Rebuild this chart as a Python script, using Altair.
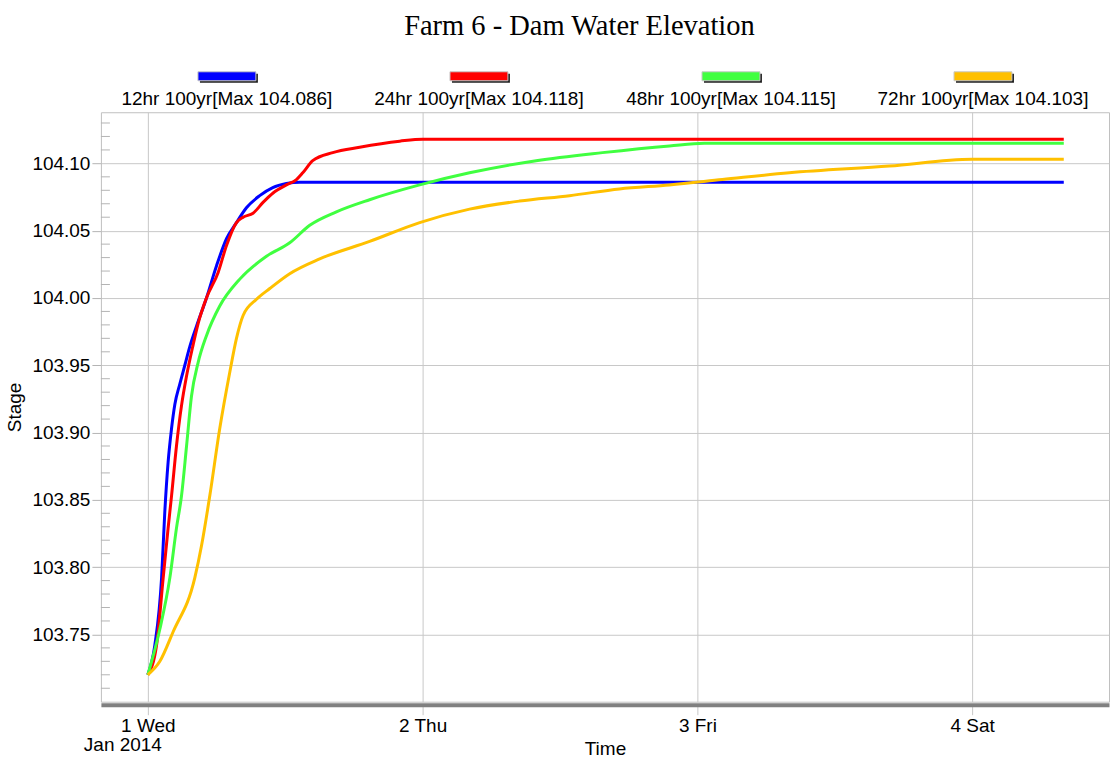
import altair as alt
import pandas as pd

# Series names and line colours
series_names = ["12hr 100yr", "24hr 100yr", "48hr 100yr", "72hr 100yr"]
series_colors = ["#0000ff", "#ff0000", "#40ff40", "#ffc000"]

# Stage readings: hours after 1 Jan 2014 00:00 and water elevation
hours_12 = [0, 0.61, 1.20, 1.48, 1.77, 2.07, 2.36, 2.79, 3.23, 3.67, 4.25, 5.12,
            6.00, 6.87, 7.74, 8.61, 9.77, 10.91, 12.10, 13.27, 80]
stage_12 = [103.720, 103.742, 103.792, 103.841, 103.878, 103.903, 103.921, 103.936,
            103.950, 103.964, 103.979, 104.000, 104.024, 104.044, 104.056, 104.067,
            104.076, 104.082, 104.085, 104.086, 104.086]

hours_24 = [0, 0.76, 1.34, 1.77, 2.07, 2.50, 2.94, 3.38, 3.95, 4.39, 5.12, 6.14,
            6.87, 7.74, 8.32, 9.19, 10.06, 10.94, 12.10, 12.98, 13.53, 14.40, 16.15,
            18.50, 22.0, 24.0, 80]
stage_24 = [103.720, 103.742, 103.792, 103.829, 103.853, 103.890, 103.920, 103.942,
            103.965, 103.981, 104.000, 104.019, 104.039, 104.056, 104.060, 104.063,
            104.071, 104.078, 104.084, 104.088, 104.093, 104.102, 104.108, 104.112,
            104.1165, 104.118, 104.118]

hours_48 = [0, 1.05, 1.92, 2.50, 2.94, 3.38, 3.81, 4.39, 5.12, 6.28, 8.03, 10.36,
            12.39, 14.14, 16.47, 19.37, 23.74, 28.10, 33.92, 39.71, 45.56, 48.6, 80]
stage_48 = [103.720, 103.754, 103.792, 103.829, 103.853, 103.890, 103.927, 103.952,
            103.972, 103.994, 104.014, 104.031, 104.041, 104.054, 104.064, 104.073,
            104.084, 104.093, 104.102, 104.108, 104.113, 104.115, 104.115]

hours_72 = [0, 1.05, 2.21, 4.10, 4.69, 5.41, 6.28, 7.16, 7.74, 8.32, 9.49, 10.65,
            12.39, 15.01, 19.37, 23.74, 28.10, 32.47, 36.83, 41.19, 45.56, 50.18,
            56.03, 64.76, 72.0, 80]
stage_72 = [103.720, 103.730, 103.752, 103.792, 103.816, 103.853, 103.903, 103.945,
            103.970, 103.987, 103.999, 104.007, 104.018, 104.029, 104.042, 104.056,
            104.066, 104.072, 104.076, 104.081, 104.084, 104.088, 104.093, 104.098,
            104.103, 104.103]

major_ticks = [103.75, 103.80, 103.85, 103.90, 103.95, 104.00, 104.05, 104.10]
minor_ticks = [103.71, 103.72, 103.73, 103.74, 103.76, 103.77, 103.78, 103.79,
               103.81, 103.82, 103.83, 103.84, 103.86, 103.87, 103.88, 103.89,
               103.91, 103.92, 103.93, 103.94, 103.96, 103.97, 103.98, 103.99,
               104.01, 104.02, 104.03, 104.04, 104.06, 104.07, 104.08, 104.09,
               104.11, 104.12, 104.13]

W, H = 1009, 590
SANS = "Liberation Sans"
FS = 19
GRID = "#c8c8c8"

start = pd.Timestamp("2014-01-01 00:00")
all_series = [(hours_12, stage_12), (hours_24, stage_24), (hours_48, stage_48), (hours_72, stage_72)]
labels = []
rows = []
for name, (hrs, vals) in zip(series_names, all_series):
    label = f"{name}[Max {max(vals):.3f}]"
    labels.append(label)
    for h, v in zip(hrs, vals):
        rows.append({"series": label,
                     "time": (start + pd.Timedelta(hours=h)).strftime("%Y-%m-%dT%H:%M:%S"),
                     "stage": v})
df = pd.DataFrame(rows)

color_scale = alt.Scale(domain=labels, range=series_colors)
x_scale = alt.Scale(domain=[alt.DateTime(year=2013, month=12, date=31, hours=19, minutes=54),
                            alt.DateTime(year=2014, month=1, date=4, hours=11, minutes=57)])
y_scale = alt.Scale(domain=[103.70, 104.138], nice=False, zero=False)

day_ticks = [alt.DateTime(year=2014, month=1, date=d) for d in range(1, 5)]

lines = alt.Chart(df).mark_line(strokeWidth=3, interpolate="monotone").encode(
    x=alt.X("time:T", scale=x_scale,
            axis=alt.Axis(values=day_ticks, format="%-d %a", title="Time",
                          grid=True, gridColor=GRID, tickSize=10, tickColor=GRID,
                          domainColor="#808080", domainWidth=4, offset=3,
                          labelPadding=2, titlePadding=4)),
    y=alt.Y("stage:Q", scale=y_scale,
            axis=alt.Axis(values=major_ticks, format=".2f", title="Stage",
                          grid=True, gridColor=GRID, tickSize=9, tickColor="#b4b4b4",
                          domain=False, labelPadding=2, titlePadding=7)),
    color=alt.Color("series:N", scale=color_scale, legend=None),
)

minor = alt.Chart(pd.DataFrame({"stage": minor_ticks})).mark_rule(
    color="#b4b4b4", strokeWidth=1
).encode(y=alt.Y("stage:Q", scale=y_scale), x=alt.value(0), x2=alt.value(9))

year_label = alt.Chart(pd.DataFrame({"stage": [0]})).mark_text(
    font=SANS, fontSize=FS, dx=-25, color="black"
).encode(x=alt.datum(alt.DateTime(year=2014, month=1, date=1)),
         y=alt.value(H + 43), text=alt.value("Jan 2014"))

main = alt.layer(minor, lines, year_label).properties(width=W, height=H)

# Legend row: swatch with drop shadow above each label
swatch_shape = "M-1,-0.155H1V0.155H-1Z"
leg_df = pd.DataFrame({"series": labels})
leg_x = alt.X("series:N", axis=None, sort=labels)
shadow = alt.Chart(leg_df).mark_point(
    shape=swatch_shape, size=3364, filled=True, color="#202020", opacity=1,
    xOffset=2, yOffset=2
).encode(x=leg_x, y=alt.value(10))
swatch = alt.Chart(leg_df).mark_point(
    shape=swatch_shape, size=3364, filled=True, opacity=1,
    stroke="#c8c8c8", strokeWidth=1
).encode(x=leg_x, y=alt.value(10),
         color=alt.Color("series:N", scale=color_scale, legend=None))
leg_text = alt.Chart(leg_df).mark_text(font=SANS, fontSize=FS, color="black").encode(
    x=leg_x, y=alt.value(33), text="series:N")
legend = alt.layer(shadow, swatch, leg_text).properties(
    width=W, height=44, view=alt.ViewBackground(stroke="transparent"))

chart = alt.vconcat(legend, main, spacing=0).properties(
    title=alt.TitleParams("Farm 6 - Dam Water Elevation", font="Liberation Serif",
                          fontSize=28.5, fontWeight="normal", color="black",
                          anchor="middle", dx=22, offset=25),
    padding={"left": 5, "top": 12, "right": 0, "bottom": 2},
    background="white",
).configure_view(stroke="#c0c0c0").configure_axis(
    labelFont=SANS, labelFontSize=FS, labelColor="black",
    titleFont=SANS, titleFontSize=FS, titleFontWeight="normal", titleColor="black",
)

chart.save("out.html", embed_options={"renderer": "svg", "actions": False})
